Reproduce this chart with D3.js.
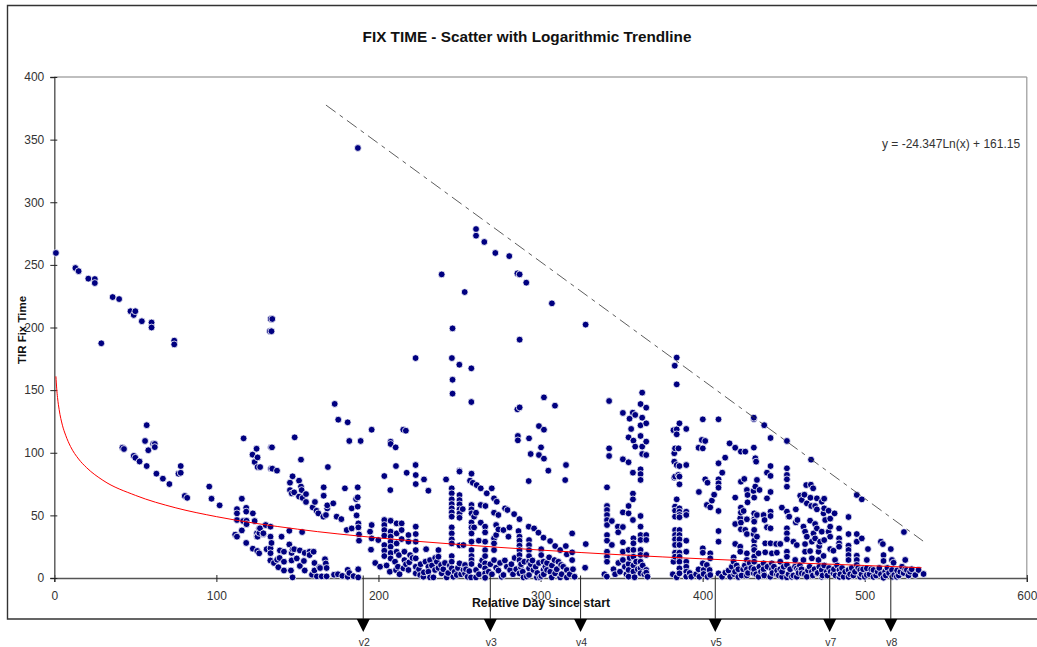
<!DOCTYPE html>
<html><head><meta charset="utf-8">
<script src="https://cdnjs.cloudflare.com/ajax/libs/d3/7.8.5/d3.min.js"></script>
<style>html,body{margin:0;padding:0;background:#fff;overflow:hidden}svg{display:block}text{font-family:"Liberation Sans",Arial,sans-serif}</style>
</head><body><svg id="c" width="1037" height="647"></svg>
<script>
const xTicks=[0,100,200,300,400,500,600];
const yTicks=[0,50,100,150,200,250,300,350,400];
const versionDays=[190.6,269,324.7,407.8,478.4,516.1];
const versionNames=["v2","v3","v4","v5","v7","v8"];
const trendDays=[1,1.5,2,3,5,7,10,15,20,30,50,75,100,150,200,250,300,350,400,450,500,535];
const trendTimes=[161,151,144,134.4,122,114,105,95,88,78,66,56,49,39,32,26.7,22.3,18.5,15.3,12.4,10,8.2];
const envelopeDays=[167.6,536];
const envelopeTimes=[377.6,29.5];
const earlyPoints=[[1,259.5],[13,247.5],[15,245],[21,239],[25,238.7],[25,235.5],[29,187.4],[36,224.3],[40,222.7],[47,213],[50,213],[49,210],[54,205],[60,204],[60,200],[74,189.5],[74,186.5],[133.5,206.8],[134.5,206.8],[133,197],[134,197],[57,122],[56,109.4],[58,102],[61,107],[62,107],[62,104.5],[42,104],[43,103],[49,97.5],[50,96],[52.6,93],[57,89.4],[63,83.3],[67,79.3],[71,75],[78,89.4],[76.6,83.3],[78,84],[80.5,65.5],[82,64],[95.6,73],[97,63.3],[102,58],[187.3,343.3]];
const clusterA=[[115.7,63.3],[112.7,55],[112.7,51.6],[112.7,46.3],[118.4,56],[118.4,53],[122.5,51.6],[116.5,45.5],[118.6,45.7],[118.6,43],[123.6,45.5],[111.6,34.6],[112.7,33],[115.7,38],[118.4,28],[122.5,23.4],[125.2,21.6],[126.4,19.7],[126.4,39.7],[125,35.7],[125.4,33],[129,35],[133.4,41],[130.4,42.3],[126.9,39.7],[126.5,36],[129,35.7],[125,33],[133.4,33],[134,28],[133.4,23.7],[133.4,19.8],[131,23],[133.3,14],[135.5,12],[138.2,8.6],[141.7,6],[146,6],[147,0.5],[140.2,33],[145,37.7],[152.9,36.7],[145,26.8],[148,23],[139.2,22],[141.7,21],[146.4,20],[139,16],[141.7,13],[146.4,14],[137.5,14.6],[147,22.8],[151.5,22],[154.5,20],[157.5,21],[160,21],[149.6,15.6],[154,13.6],[157.5,18.3],[151.5,9.6],[154.5,6],[160.5,12],[163.5,8.7],[167,15],[167.5,11.6],[164,8],[168,8],[160.5,6],[159,2.6],[162,1.3],[165,1.3],[168,1.3],[172.6,2.6],[175,3],[177.7,1.7],[181,6.5],[182,4],[181,1],[184.6,1.5],[187.5,7],[187.5,0.5]];
const clusterB=[[173,139],[175.2,126.4],[181,124.3],[182,109.4],[189,109.4],[195.8,118.4],[168.8,88.6],[152.2,94.5],[148.3,112.3],[116.8,111.5],[124.8,103.2],[133.7,104.3],[134.3,104.3],[122.3,98.5],[125.4,96.3],[123.6,92.6],[125.4,88.6],[127,88.6],[133.7,87.3],[134.5,87.3],[137.4,85.7],[147,81.2],[145.4,76.1],[151,77.7],[145.4,70.2],[148,68.4],[146.5,67.5],[152.2,73],[155.3,67],[152.6,70.2],[151,65],[153.2,63.9],[155.3,60.7],[166.2,72.4],[166.2,65.7],[160.8,60.7],[159.4,56.4],[161.8,53.7],[162.9,51.6],[166,49],[167.6,50.3],[168.4,55.6],[168.4,58],[172.1,59.6],[174.2,49],[177.1,47],[179.3,71.6],[187.2,72.4],[187.2,64.4],[186.2,63],[183.5,55.6],[187.2,57],[186.5,50],[187.6,43.6],[187.6,40.4],[183.5,39.6],[180.4,38.3],[188,34.8],[188,29.8],[195.4,22.6],[195.8,42.3],[194.8,37],[195.8,31.6],[199.9,30.3]];
const cluster200=[[203.6,46.3],[203.6,42.3],[203.6,38.3],[203.6,33.8],[203.6,26.3],[203.6,21.8],[203.6,17.5],[207.5,45.7],[207.5,37],[207.5,33],[207.5,29],[207.5,25],[207.5,20],[207.5,15.6],[210.2,13],[210.8,6.3],[211.2,43.6],[211.2,35.6],[211.2,27.6],[211.2,21],[212.6,18.3],[203.6,81.4],[207.3,70.2],[210.8,89.4],[210.6,104.3],[207.5,108.8],[207.5,107],[215.3,118.4],[216.9,117.6],[217.4,84],[223,82.2],[223,75],[228.1,78.7],[230.8,69.7],[222.9,90.2],[222.9,175.6],[214.3,43.6],[214.3,38.3],[214.3,31.1],[216,21],[216,14.3],[215.4,7.7],[218.5,34.3],[218.5,29],[219.5,18.3],[218.5,6.4],[223,41],[223,35.1],[223,29],[223,22.3],[223,15.7],[223,9],[223,3.7],[225.7,2.4],[227.7,1],[229.4,23],[231.8,14.3],[230.8,9],[230.8,5],[231.8,0.5],[233.9,0.5],[234.9,6.4],[236,13],[237,22.3],[237,17],[238.6,10.4],[239,3.7],[242.1,0.5],[239,242.4],[241.7,78.7]];
const cluster245=[[245.7,199.3],[245.3,175.6],[249.9,170.3],[257.3,167.4],[245.7,158.3],[245.7,147.2],[257.3,140.5],[253.2,228.3],[250,85],[249.9,85.7],[257.4,83.3],[245.2,71.6],[245.2,67.6],[245.2,62.8],[245.2,59],[245.2,55.6],[245.2,52.4],[245.2,49],[245.2,40.4],[245.2,35.6],[245.2,30.8],[245.2,27.6],[245.2,17.5],[245.2,13],[245.2,7.7],[246.2,1],[248.3,2.4],[250,66.2],[250,62.2],[250,58.8],[250,54.8],[250,51.6],[250,48.1],[252,55],[252.4,26.3],[250,26],[250,11.7],[253.4,10.4],[253.4,3.7],[252.4,6.4],[257.4,58.3],[257.4,54.8],[257.4,51.6],[257.4,44.4],[257.4,40.4],[257.4,35.6],[257.4,29],[257.4,22.3],[257.4,17.5],[257.4,14.3],[257.4,11.2],[257.1,0.5],[260.2,52.1],[259,49],[263.1,58.3],[266,57.5],[263.1,44.2],[265.8,41],[265.8,36.4],[259,40.4],[261.9,29.8],[265.8,29],[265.8,22.3],[265.8,17.5],[265.8,11.7],[265.8,7.7],[265.8,3.7],[265.8,0.2],[260.2,6.4],[260.2,0.5]];
const cluster270=[[260.2,278.6],[260.2,273.3],[265.3,268.3],[272.1,259.5],[280.7,257],[285.7,243.2],[287.1,242.4],[291.2,235.8],[307,219.3],[327.8,202.3],[287.1,190.3],[302.1,144.2],[308.9,137.6],[287.1,136.2],[285.7,134.7],[286,113.4],[286,109.9],[292.9,111.5],[299,121.3],[302.1,118.4],[300.3,104.3],[293.9,99],[299,98.2],[302.1,95.3],[315.7,90.2],[304.8,85.7],[292.7,77.4],[315.2,78.2],[256.5,77.7],[258.2,76],[260.6,74.2],[263.1,71.6],[266.8,67.6],[269.9,71.6],[271.3,63.6],[273,60.9],[278.1,55.6],[279.6,54.3],[283.7,51],[287,47],[271.3,52.1],[274,50.3],[272.6,42.3],[274,38.8],[271.3,31.6],[271.3,27.6],[271.3,22.3],[272.6,34.3],[271.3,14.3],[272.6,8.2],[277.1,38.3],[280.8,40.4],[280.2,33],[286.4,37.5],[287,33],[287,29.8],[287,25.8],[287,22.3],[287,18.3],[287,14.3],[287.8,8.9],[287,3.7],[277.1,2.4],[279.2,9],[281.2,6.4],[289.5,0.5],[291.5,1.2]];
const cluster295=[[292.7,41],[296,39.6],[298.7,36.2],[301.8,32.2],[305.9,29.5],[309,25.5],[312.1,22.3],[316.2,18.9],[319.5,20.5],[319.5,35.6],[315.6,25.5],[319.5,14.3],[327.9,27.1],[327.5,8.2],[292.9,30.3],[292.9,26.3],[292.9,22.3],[292.9,17.5],[292.9,13],[292.9,7.7],[292.9,2.4],[300.4,23],[300.4,18.3],[301.8,13],[305.3,16.5],[308.6,14.3],[301.8,6.4],[312.7,10.4],[316.2,6.4],[316.2,0.5],[295.6,6.4],[297.7,0.5],[299.7,0.6],[304,6.4],[306.9,0.5],[309,3.7],[312.1,0.5],[300.5,1.5]];
const column345=[[342.3,141.3],[342.3,103.5],[342.3,97.4],[341,72.4],[341,57.5],[341,54.3],[341,50.3],[341,46.3],[344,45.5],[341,42.3],[341,34.3],[341,29.8],[344,26.4],[341,21],[341,17],[341,13],[339.4,3],[340.9,1.1],[350.8,131.8],[356.9,132],[358.4,130.2],[354.9,127.2],[362.7,148],[361.7,138.9],[365.2,136],[365.2,123.5],[361.7,121.9],[362.7,128],[355.9,119],[354.3,112.3],[357.3,109.7],[361.7,113.4],[365.2,108.9],[358.4,104.9],[362.7,104.9],[362.7,99],[365.2,98.2],[350.8,94.8],[354.3,92.4],[357,84.1],[361.7,86.8],[361.7,83],[361.7,78.3],[357,67.4],[357,62.8],[354.3,57.5],[350.8,52.4],[354.3,51.6],[357,46.3],[361.7,49.5],[347.7,41],[350.8,40.7],[347.9,36.5],[361.7,41],[350.8,28.5],[350.8,21],[350.8,14.4],[357.3,31.7],[361.7,34.3],[365.2,34.3],[361.7,30.4],[365.2,30.4],[357.3,27.7],[354.3,22.4],[357.3,22.4],[361.7,22.4],[365.2,18.4],[361.7,18.4],[357.3,17],[361.7,13],[354.3,11.2],[357.3,10],[361.7,7.7],[365.2,6.4],[365.2,4.3],[354.3,6.4],[354.3,1.1],[358,0.6],[357.3,5.1],[361.7,3.8]];
const column384=[[384,176],[382.8,169.5],[384,154.6],[385.7,123.5],[382,118],[384,118.7],[389.9,119],[384,114.7],[385.1,103.5],[383,103.5],[382.5,99.6],[382.5,92.9],[384,90.2],[385.7,89.4],[389.9,90.2],[385,82.3],[383,81],[385.7,81],[382.5,80.1],[385.7,74.8],[384,62.8],[383,57],[385.7,55.6],[383,53.8],[385.7,52.9],[389.9,52.9],[385.7,50.3],[389.9,50.3],[383,49],[385.7,48.5],[383,38.3],[385.7,38.3],[383,34.3],[385.7,34.3],[383,30.9],[385.7,30.9],[389.9,29.8],[383,26.4],[385.7,26.4],[383,20.2],[385.7,20.2],[389.9,21],[385.7,17],[383,17],[389.9,13],[385.7,13],[382,13],[389.9,9],[385.7,7.7],[381.6,3],[385.7,3.7],[389.9,5],[384,0.6],[389.9,1.1]];
const column405=[[400.1,126.7],[409.8,126.7],[399.5,110.2],[401.6,109.4],[397.5,104],[400.1,103.5],[416.6,107.5],[420.1,104],[423.6,100.9],[426.3,100.9],[431.6,104.1],[413.9,96.1],[409.8,91.6],[412.1,84.1],[401.6,78.8],[403,76.1],[409.8,78.8],[409.8,75.6],[409.8,72.1],[397.7,68.7],[407.1,66.5],[405.7,61.8],[402.6,58.3],[404.7,56.4],[409.8,53.5],[409.8,37.5],[409.8,29],[400.1,23.7],[400.1,20.2],[404.7,19.7],[404.7,15.7],[400.1,11.7],[402.6,10.4],[397.5,6.9],[400.6,6.4],[404.3,6.4],[400.6,3.2],[404.7,2.4],[409.8,3.7],[414,4.3]];
const cluster430=[[431.6,126.9],[431.6,128],[438,122],[441.9,111.8],[452,109.4],[432.5,95.6],[433,92.9],[441.9,89.4],[439.7,84.1],[441.9,81.5],[452,87.6],[452,82.3],[452,78.8],[452,72.9],[433.5,78.3],[425.7,79.1],[423.6,76.9],[432.5,73],[431.4,69.5],[435.1,70.3],[427.3,70.3],[427.7,66.3],[431.8,64.2],[420.1,64.2],[441.9,68.7],[439.7,63.6],[427.7,60.4],[423.6,56.2],[425.3,53.5],[431.8,51.6],[423.6,52.2],[433.5,50.3],[427.3,46.9],[423.2,47.7],[431.8,46.9],[437.6,50.3],[438.2,46.3],[441.9,53],[441.9,49.5],[448.9,56.2],[452,53],[453.4,49],[420.1,43.1],[423.6,44.2],[423.6,38.9],[426.3,38.4],[427.3,35.1],[431.8,45],[431.8,38.4],[431.4,35.1],[433.5,33],[431.8,29.8],[431.8,25],[439.7,40.5],[441.9,39.7],[452,39.7],[452,35.7],[452,31],[447.9,27.2],[441.9,27.7],[445.4,27.2],[438.6,27.7],[438.6,20.5],[442.7,19.7],[445.8,20.2],[452,21],[452,17],[420.1,27.2],[423.2,25],[423.2,21],[427.3,19.7],[431.8,22.4],[434.5,19.7],[431.8,17],[419.1,16.5],[419.1,13],[427.3,14.4],[431.8,13],[437.6,11.7],[442.7,11.7],[447.9,13],[452,10.4],[417,1],[419.5,3],[422,0.8],[427.3,2],[431.4,4],[434.5,1],[437.6,4],[441.7,1],[445.8,3],[449,1],[452,0.6],[422,7],[427.3,7],[431.8,7],[437.6,7],[442.7,7],[447.9,7]];
const cluster460=[[466.9,94.5],[524.2,36.7],[495.1,66.3],[498.2,62.8],[463.9,74.2],[466.8,74.5],[468.2,71.6],[460.2,65.7],[462.8,66.5],[466.5,64.1],[470.5,63.6],[475,63.3],[473.5,60.9],[461.2,62.3],[464.3,59.6],[467,57.5],[469.4,57.5],[470.5,54.8],[475,55.6],[477.7,53.7],[481.4,51.6],[474.6,51.6],[478.7,47.4],[490,48.7],[475.6,46.3],[457.5,54.8],[453,49],[458.5,46.3],[457.5,44.4],[466.3,45.8],[469.4,43.1],[470.5,39.6],[462.2,41],[463.2,37],[468.4,35.6],[464.3,33],[469.4,31.6],[473.5,37],[478.7,41],[477.7,37],[484.2,39.6],[478.7,33],[484.2,31.6],[490,35.1],[495.1,35.1],[498.2,31.6],[495.1,29],[472.5,29],[475,30.3],[471.9,25.5],[484.2,27.7],[484.2,25],[490,25.8],[478.7,23.1],[480.7,21.8],[490,22.4],[502,23.1],[510,29],[511.2,27.1],[516.1,23.1],[490,18.3],[490,14.4],[495.1,17.8],[495.1,14.4],[501.3,14.4],[511.6,18.3],[511.6,13.6],[516.8,14.4],[517.8,12.2],[525,14.4],[456,29],[463.2,27.1],[467.4,29],[471.5,21],[474.6,17.6],[466.3,21.5],[463.2,21],[458.1,26.3],[457.1,14.4],[462.2,14.4],[467.4,15.7],[471.5,14.4],[481.7,14.4]];
const tailPoints=[[455,1],[459.2,4],[458.1,7.7],[458.1,1],[461.2,3.7],[464.3,1],[467.4,5],[470.5,3.7],[473.5,6.4],[473.5,0.9],[476.6,5],[480.7,3.7],[484.4,6.4],[484.4,0.9],[490,6.4],[490,0.9],[495.1,10.4],[497.2,6.4],[497.2,0.9],[501.3,7.7],[501.3,2.4],[505.4,6.4],[505.4,0.9],[511.6,0.2],[512.6,5],[516.8,6.4],[518.2,2.4],[519.8,1],[522,5],[523,9],[526,6.4],[528,5],[531.2,2.4],[533.2,6.4],[536.3,3.2]];
const bandLeft=[[198,12],[201,9],[205,10],[207,5],[212,9],[213,3],[217,11],[219,12.5],[221,16],[225,7],[226,11],[228,4.5],[229,13],[233,10],[235,16],[237,8],[240,7],[241,12],[243,4],[244,10],[247,5],[249,8],[251,3],[254,7],[255,1],[256,5.5],[262,3],[263,10],[264,14],[268,5],[269,11],[270,3],[274,6],[275,12],[276,1],[278,14],[282,11],[283,3],[284,16],[285,7],[288,11],[289,5],[290,13],[294,11],[295,14],[297,9],[298,4],[299,12],[302,3],[303,9],[304,12],[306,5],[307,10],[310,7],[311,13],[313,3],[314,9],[318,3],[320,7],[321,1]];
const bandRight=[[345,7],[346,3],[348,12],[349,5],[352,9],[353,3],[355,16],[359,13],[360,7],[363,10],[364,3],[366,1],[392,4],[393,1],[396,3],[398,1],[403,1],[412,1],[416,6],[418,9],[420,5],[421,10],[424,2],[425,7],[426,10],[428,4],[429,12],[430,8],[433,3],[435,9],[436,5],[438,2],[440,9],[443,4],[444,9],[446,6],[447,2],[449,5],[450,9],[453,3],[454,7],[456,2],[457,9],[459,6],[460,10],[461,7],[463,3],[465,6],[466,9],[468,2],[469,7],[471,4],[472,9],[474,2],[475,10],[477,2],[478,8],[479,5],[481,7],[482,2],[483,10],[485,3],[486,8],[487,1],[488,5],[491,3],[492,8],[493,2],[494,5],[496,8],[498,3],[499,7],[500,1],[503,3],[504,7],[507,2],[508,5],[509,8],[510,3],[513,2],[514,8],[515,4],[517,1],[520,6],[521,2],[524,4],[525,7],[527,2],[529,7]];

const svg=d3.select("#c");
const x=d3.scaleLinear().domain([0,600]).range([54.3,1026.8]);
const y=d3.scaleLinear().domain([0,400]).range([578,77]);
const ink="#333";
svg.append("path").attr("d","M1037,5.5H7.5V619H1037").attr("fill","none").attr("stroke","#333").attr("stroke-width",1.4);
svg.append("line").attr("x1",x(0)).attr("x2",x(600)).attr("y1",y(400)).attr("y2",y(400)).attr("stroke","#aaa").attr("stroke-width",1.4);
svg.append("line").attr("x1",x(600)).attr("x2",x(600)).attr("y1",y(400)).attr("y2",y(0)).attr("stroke","#999").attr("stroke-width",1.2);
const ax=svg.append("g").attr("transform",`translate(0,${y(0)})`).call(d3.axisBottom(x).tickValues(xTicks).tickSize(4).tickPadding(9));
ax.selectAll(".tick line").attr("y1",-3);
const ay=svg.append("g").attr("transform",`translate(${x(0)},0)`).call(d3.axisLeft(y).tickValues(yTicks).tickSize(4).tickPadding(6));
ay.selectAll(".tick line").attr("x1",3);
[ax,ay].forEach(a=>{a.select(".domain").attr("stroke","#555").attr("stroke-width",1.4);
 a.selectAll(".tick line").attr("stroke","#222");
 a.selectAll(".tick text").attr("fill",ink).style("font-size","12px").style("font-family",'"Liberation Sans",Arial,sans-serif');});
const pts=[].concat(earlyPoints,clusterA,clusterB,cluster200,cluster245,cluster270,cluster295,column345,column384,column405,cluster430,cluster460,tailPoints,bandLeft,bandRight).sort((a,b)=>a[0]-b[0]);
svg.append("g").selectAll("circle").data(pts).join("circle")
 .attr("cx",d=>x(d[0])).attr("cy",d=>y(d[1])).attr("r",3.4)
 .attr("fill","#000080").attr("stroke","#fff").attr("stroke-width",0.8);
svg.append("path").datum(d3.zip(trendDays,trendTimes))
 .attr("d",d3.line().x(d=>x(d[0])).y(d=>y(d[1])).curve(d3.curveMonotoneX))
 .attr("fill","none").attr("stroke","#ff0000").attr("stroke-width",1);
svg.append("path").datum(d3.zip(envelopeDays,envelopeTimes))
 .attr("d",d3.line().x(d=>x(d[0])).y(d=>y(d[1])))
 .attr("fill","none").attr("stroke","#333").attr("stroke-width",0.8).attr("stroke-dasharray","12 5 4 5");
const vg=svg.append("g").selectAll("g").data(versionDays.map((d,i)=>({d,n:versionNames[i]}))).join("g")
 .attr("transform",d=>`translate(${x(d.d)},0)`);
vg.append("line").attr("y1",575.5).attr("y2",620).attr("stroke","#222").attr("stroke-width",1);
vg.append("path").attr("d","M-6.5,619H6.5L0,632Z").attr("fill","#000");
vg.append("text").attr("x",1).attr("y",646).attr("text-anchor","middle").attr("font-size",10.5).attr("fill",ink).text(d=>d.n);
svg.append("text").attr("x",527).attr("y",42).attr("text-anchor","middle").attr("font-size",15.3).attr("font-weight","bold").attr("fill","#111").text("FIX TIME - Scatter with Logarithmic Trendline");
svg.append("text").attr("transform","translate(26,330) rotate(-90)").attr("text-anchor","middle").attr("font-size",11.5).attr("font-weight","bold").attr("fill","#111").text("TIR Fix Time");
svg.append("text").attr("x",541).attr("y",607).attr("text-anchor","middle").attr("font-size",12.3).attr("font-weight","bold").attr("fill","#111").text("Relative Day since start");
svg.append("text").attr("x",882).attr("y",147.5).attr("font-size",12).attr("fill",ink).text("y = -24.347Ln(x) + 161.15");
</script></body></html>
